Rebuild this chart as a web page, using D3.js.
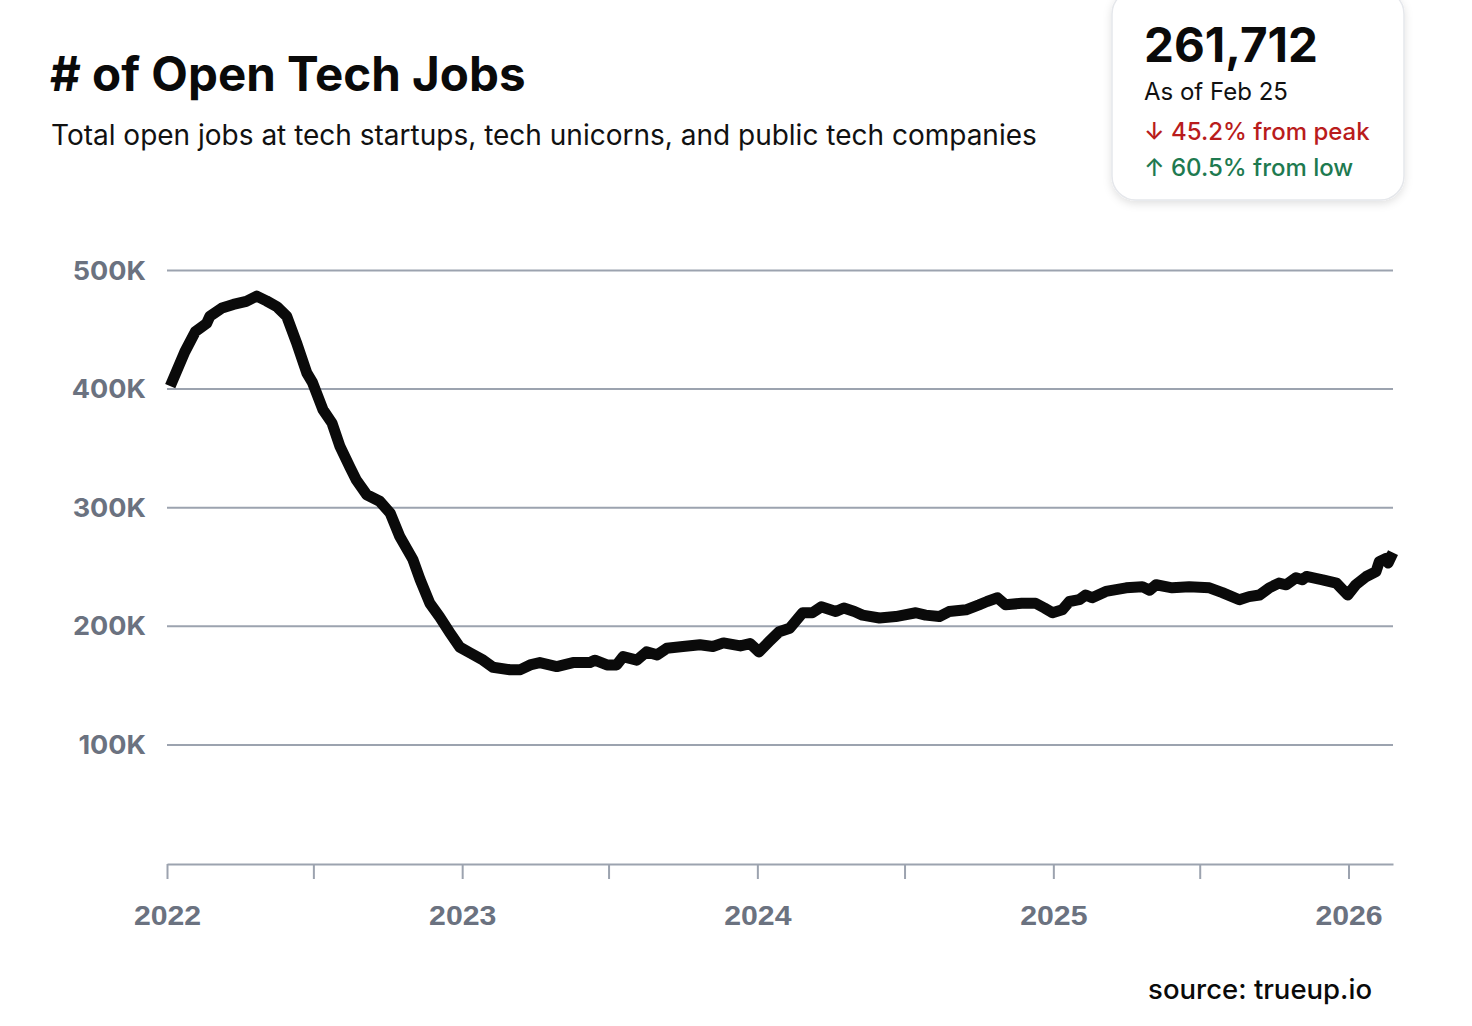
<!DOCTYPE html>
<html lang="en">
<head>
<meta charset="utf-8">
<title># of Open Tech Jobs</title>
<script src="https://cdn.jsdelivr.net/npm/d3@7"></script>
<style>
  body { margin: 0; background: #fff; }
  svg { font-family: Inter, "Noto Sans", sans-serif; }
  .grid line { stroke: #9ca3af; stroke-width: 2; }
  .grid path { display: none; }
  .y-axis text, .x-axis text { fill: #6b7280; font-weight: 700; }
  .x-axis path, .x-axis line { stroke: #9ca3af; stroke-width: 2; }
</style>
</head>
<body>
<script>
// weekly-ish readings of the line, date -> open jobs (thousands)
var dates = [
  "2022-01-05","2022-01-23","2022-02-05","2022-02-19","2022-02-23","2022-03-10","2022-03-24","2022-04-09",
  "2022-04-22","2022-05-04","2022-05-17","2022-05-29","2022-06-10","2022-06-23","2022-06-30","2022-07-13",
  "2022-07-24","2022-08-03","2022-08-15","2022-08-23","2022-09-05","2022-09-21","2022-10-04","2022-10-16",
  "2022-11-01","2022-11-10","2022-11-22","2022-12-04","2022-12-17","2022-12-29","2023-01-11","2023-01-27",
  "2023-02-08","2023-03-01","2023-03-14","2023-03-26","2023-04-07","2023-04-28","2023-05-18","2023-06-08",
  "2023-06-14","2023-06-29","2023-07-11","2023-07-19","2023-08-05","2023-08-17","2023-08-30","2023-09-11",
  "2023-10-01","2023-10-22","2023-11-07","2023-11-20","2023-12-11","2023-12-23","2024-01-03","2024-01-16",
  "2024-01-28","2024-02-10","2024-02-26","2024-03-09","2024-03-20","2024-04-07","2024-04-17","2024-04-30",
  "2024-05-10","2024-05-31","2024-06-20","2024-07-15","2024-07-27","2024-08-13","2024-08-25","2024-09-15",
  "2024-10-01","2024-10-11","2024-10-24","2024-11-03","2024-11-23","2024-12-10","2024-12-21","2024-12-31",
  "2025-01-12","2025-01-21","2025-02-02","2025-02-10","2025-02-18","2025-03-07","2025-04-01","2025-04-21",
  "2025-04-30","2025-05-08","2025-05-28","2025-06-18","2025-07-13","2025-07-29","2025-08-19","2025-08-31",
  "2025-09-13","2025-09-25","2025-10-07","2025-10-16","2025-10-28","2025-11-05","2025-11-10","2025-11-30",
  "2025-12-17","2025-12-31","2026-01-10","2026-01-23","2026-02-04","2026-02-08","2026-02-17","2026-02-19",
  "2026-02-25"
];
var jobs = [
  402, 431, 448, 455, 461, 468, 471, 473.6,
  478, 474, 469, 461, 439, 413, 405, 382,
  371, 351, 334, 323, 310.5, 305, 295, 275,
  256, 239, 219, 207.6, 194, 182, 177, 171,
  165, 163, 163, 167, 169, 165.6, 169, 169,
  171, 167, 167, 174, 171, 178, 175.5, 181,
  182.5, 184, 182.5, 185.6, 183, 185, 178, 187,
  195, 198, 211, 211, 216, 212, 215, 212,
  209, 206.6, 207.8, 211, 209, 207.8, 212, 213.5,
  217.7, 220.5, 223.6, 217.7, 219, 219, 215, 211,
  213.5, 220.5, 222, 226, 223.6, 229, 232, 233,
  230, 234.6, 232, 233, 232, 228, 222, 224.6,
  226, 232, 236, 234.6, 240.5, 238.8, 241.6, 238.8,
  236, 226, 234.6, 241.6, 245.7, 254, 257, 253,
  261.712
];
var yTicks = [100000, 200000, 300000, 400000, 500000];
var yearTicks = ["2022-01-01","2023-01-01","2024-01-01","2025-01-01","2026-01-01"];
var halfTicks = ["2022-07-01","2023-07-01","2024-07-01","2025-07-01"];

var w = 1472, h = 1026;
var parse = d3.timeParse("%Y-%m-%d");
var data = dates.map(function(d, i){ return {date: parse(d), value: jobs[i] * 1000}; });

var x = d3.scaleTime()
  .domain([parse("2022-01-01"), parse("2026-02-25")])
  .range([167, 1393]);
var y = d3.scaleLinear()
  .domain([0, 500000])
  .range([863, 270]);

var svg = d3.select("body").append("svg")
  .attr("width", w)
  .attr("height", h);

// title block
svg.append("text").attr("x", 50).attr("y", 91)
  .attr("font-size", 47.5).attr("font-weight", 700).attr("fill", "#0a0a0a")
  .text("# of Open Tech Jobs");
svg.append("text").attr("x", 51).attr("y", 145)
  .attr("font-size", 28).attr("fill", "#111")
  .text("Total open jobs at tech startups, tech unicorns, and public tech companies");

// grid lines
svg.append("g").attr("class", "grid")
  .attr("transform", "translate(167,0)")
  .call(d3.axisLeft(y).tickValues(yTicks).tickSize(-(1393 - 167)).tickFormat(""));

// y labels
svg.append("g").attr("class", "y-axis")
  .selectAll("text").data(yTicks).enter().append("text")
  .attr("transform", function(d){ return "translate(146," + (y(d) + 9.5) + ") scale(1.04,1)"; })
  .attr("text-anchor", "end")
  .attr("font-size", 26)
  .attr("font-weight", 800)
  .text(function(d){ return d3.format("~s")(d).replace("k", "K"); });

// x axis
var allTicks = yearTicks.concat(halfTicks).map(parse).sort(d3.ascending);
var xAxis = d3.axisBottom(x)
  .tickValues(allTicks)
  .tickSize(15)
  .tickSizeOuter(0)
  .tickFormat(function(d){ return d.getMonth() === 0 ? d3.timeFormat("%Y")(d) : ""; });
var gx = svg.append("g").attr("class", "x-axis")
  .attr("transform", "translate(0,864)")
  .call(xAxis);
gx.selectAll("text")
  .attr("y", 0).attr("dy", 0)
  .attr("font-size", 28)
  .attr("font-weight", 800)
  .attr("transform", "translate(0,61) scale(1.08,1)");

// the line
var line = d3.line()
  .x(function(d){ return x(d.date); })
  .y(function(d){ return y(d.value); });
svg.append("path").datum(data)
  .attr("d", line)
  .attr("fill", "none")
  .attr("stroke", "#0a0a0a")
  .attr("stroke-width", 11)
  .attr("stroke-linejoin", "round")
  .attr("stroke-linecap", "butt");

// stat card
var defs = svg.append("defs");
var f = defs.append("filter").attr("id", "shadow").attr("x", "-20%").attr("y", "-20%").attr("width", "140%").attr("height", "150%");
f.append("feDropShadow").attr("dx", 0).attr("dy", 3).attr("stdDeviation", 4).attr("flood-color", "#000").attr("flood-opacity", 0.12);

var last = data[data.length - 1].value;

var card = svg.append("g");
card.append("rect").attr("x", 1112).attr("y", -10).attr("width", 292).attr("height", 210)
  .attr("rx", 24).attr("fill", "#fff").attr("stroke", "#e5e7eb").attr("stroke-width", 1.5)
  .attr("filter", "url(#shadow)");
card.append("text").attr("x", 1144).attr("y", 62)
  .attr("font-size", 47.5).attr("font-weight", 700).attr("fill", "#0a0a0a")
  .text(d3.format(",")(Math.round(last)));
card.append("text").attr("x", 1144).attr("y", 100)
  .attr("font-size", 24).attr("fill", "#111")
  .text("As of Feb 25");
card.append("text").attr("x", 1144).attr("y", 140)
  .attr("font-size", 24).attr("font-weight", 500).attr("fill", "#b91c1c")
  .text("↓ 45.2% from peak");
card.append("text").attr("x", 1144).attr("y", 176)
  .attr("font-size", 24).attr("font-weight", 500).attr("fill", "#1e7a50")
  .text("↑ 60.5% from low");

// source
svg.append("text").attr("x", 1372).attr("y", 999)
  .attr("text-anchor", "end")
  .attr("font-size", 27.5).attr("font-weight", 500).attr("fill", "#0a0a0a")
  .text("source: trueup.io");
</script>
</body>
</html>
